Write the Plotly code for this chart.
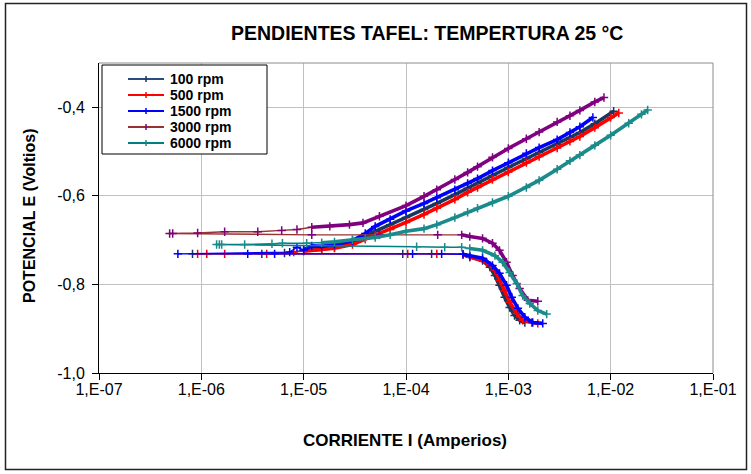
import plotly.graph_objects as go

# ---------------- data ----------------
series_names = ["100 rpm", "500 rpm", "1500 rpm", "3000 rpm", "6000 rpm"]
line_colors = ["#2B4C7E", "#FF0000", "#0000FF", "#993333", "#008080"]
marker_colors = ["#17375E", "#FF0000", "#0000FF", "#800080", "#1A8A8A"]

x_tick_vals = [1e-7, 1e-6, 1e-5, 1e-4, 1e-3, 1e-2, 1e-1]
x_tick_text = ["1,E-07", "1,E-06", "1,E-05", "1,E-04", "1,E-03", "1,E-02", "1,E-01"]
y_tick_vals = [-1.0, -0.8, -0.6, -0.4]
y_tick_text = ["-1,0", "-0,8", "-0,6", "-0,4"]

# 100 rpm
i100_cat = [1.45e-3, 1.29e-3, 1.15e-3, 1.03e-3, 9.2e-4, 8.2e-4, 7.4e-4, 6.6e-4, 5.6e-4, 4.2e-4, 3.6e-4]
e100_cat = [-0.886, -0.881, -0.870, -0.852, -0.829, -0.802, -0.780, -0.761, -0.746, -0.738, -0.732]
i100_low = [1.78e-4, 9.3e-5, 8.2e-7, 3.9e-6, 6.5e-6]
e100_low = [-0.731, -0.731, -0.731, -0.731, -0.729]
i100_an = [1.0e-5, 1.5e-5, 2.0e-5, 3.0e-5, 4.0e-5, 5.0e-5, 7.0e-5, 1.0e-4, 1.5e-4, 2.0e-4, 3.0e-4,
           4.0e-4, 5.0e-4, 7.0e-4, 1.0e-3, 1.5e-3, 2.0e-3, 3.0e-3, 4.0e-3, 5.0e-3, 7.0e-3, 1.07e-2]
e100_an = [-0.723, -0.721, -0.716, -0.705, -0.692, -0.680, -0.665, -0.649, -0.631, -0.617, -0.597,
           -0.583, -0.572, -0.554, -0.536, -0.516, -0.502, -0.484, -0.468, -0.457, -0.437, -0.409]

# 500 rpm
i500_cat = [1.94e-3, 1.69e-3, 1.38e-3, 1.21e-3, 1.03e-3, 9.2e-4, 8.2e-4, 7.4e-4, 6.15e-4, 4.2e-4, 3.6e-4]
e500_cat = [-0.888, -0.886, -0.881, -0.865, -0.840, -0.814, -0.791, -0.768, -0.750, -0.738, -0.732]
i500_low = [2.0e-4, 1.04e-4, 9.2e-7, 1.13e-6, 1.69e-6, 4.35e-6, 8.0e-6]
e500_low = [-0.731, -0.731, -0.731, -0.731, -0.731, -0.731, -0.727]
i500_an = [1.0e-5, 1.5e-5, 2.0e-5, 3.0e-5, 4.0e-5, 5.0e-5, 7.0e-5, 1.0e-4, 1.5e-4, 2.0e-4, 3.0e-4,
           4.0e-4, 5.0e-4, 7.0e-4, 1.0e-3, 1.5e-3, 2.0e-3, 3.0e-3, 4.0e-3, 5.0e-3, 7.0e-3, 1.0e-2, 1.2e-2]
e500_an = [-0.725, -0.721, -0.718, -0.710, -0.698, -0.689, -0.676, -0.660, -0.642, -0.628, -0.608,
           -0.592, -0.581, -0.563, -0.546, -0.525, -0.511, -0.492, -0.477, -0.466, -0.446, -0.423, -0.413]

# 1500 rpm
i1500_cat = [2.17e-3, 1.73e-3, 1.45e-3, 1.24e-3, 1.08e-3, 9.6e-4, 8.2e-4, 7.0e-4, 5.6e-4, 4.2e-4, 3.6e-4]
e1500_cat = [-0.888, -0.886, -0.874, -0.854, -0.829, -0.802, -0.775, -0.757, -0.741, -0.736, -0.732]
i1500_low = [2.23e-4, 1.16e-4, 5.2e-6, 2.84e-6, 5.9e-7, 7.3e-6, 8.6e-6]
e1500_low = [-0.731, -0.731, -0.731, -0.731, -0.731, -0.727, -0.716]
i1500_an = [1.0e-5, 1.2e-5, 1.5e-5, 2.0e-5, 3.0e-5, 4.0e-5, 5.0e-5, 7.0e-5, 1.0e-4, 1.5e-4, 2.0e-4,
            3.0e-4, 4.0e-4, 5.0e-4, 7.0e-4, 1.0e-3, 1.5e-3, 2.0e-3, 3.0e-3, 4.0e-3, 5.0e-3, 6.7e-3]
e1500_an = [-0.722, -0.713, -0.714, -0.710, -0.701, -0.685, -0.669, -0.653, -0.634, -0.617, -0.604,
            -0.586, -0.572, -0.561, -0.543, -0.525, -0.504, -0.491, -0.473, -0.457, -0.444, -0.423]

# 3000 rpm
i3000_cat = [1.94e-3, 1.55e-3, 1.29e-3, 1.10e-3, 9.6e-4, 8.2e-4, 7.0e-4, 5.6e-4, 4.2e-4, 3.5e-4]
e3000_cat = [-0.838, -0.836, -0.809, -0.780, -0.750, -0.723, -0.707, -0.696, -0.692, -0.688]
i3000_low = [2.04e-4, 5.5e-5, 1.2e-5, 4.9e-7, 5.25e-7, 9.2e-7, 1.69e-6, 3.56e-6, 6.1e-6, 8.6e-6]
e3000_low = [-0.688, -0.688, -0.688, -0.685, -0.685, -0.684, -0.681, -0.681, -0.678, -0.676]
i3000_an = [1.2e-5, 1.8e-5, 2.8e-5, 3.8e-5, 5.5e-5, 1.0e-4, 1.5e-4, 2.0e-4, 3.0e-4, 4.0e-4, 5.0e-4,
            7.0e-4, 1.0e-3, 1.5e-3, 2.0e-3, 3.0e-3, 4.0e-3, 5.0e-3, 7.0e-3, 8.6e-3]
e3000_an = [-0.671, -0.669, -0.665, -0.661, -0.646, -0.622, -0.601, -0.586, -0.563, -0.547, -0.534,
            -0.513, -0.493, -0.471, -0.456, -0.433, -0.419, -0.407, -0.388, -0.378]

# 6000 rpm
i6000_cat = [2.37e-3, 1.94e-3, 1.62e-3, 1.38e-3, 1.21e-3, 1.03e-3, 8.8e-4, 7.4e-4, 5.6e-4, 4.2e-4]
e6000_cat = [-0.867, -0.859, -0.843, -0.825, -0.798, -0.773, -0.750, -0.735, -0.723, -0.719]
i6000_low = [3.5e-4, 2.39e-4, 1.27e-4, 1.41e-6, 1.5e-6, 1.58e-6, 2.65e-6, 4.9e-6, 6.2e-6, 1.07e-5]
e6000_low = [-0.716, -0.716, -0.715, -0.710, -0.710, -0.710, -0.710, -0.708, -0.707, -0.707]
i6000_an = [1.5e-5, 2.0e-5, 3.0e-5, 4.0e-5, 5.0e-5, 7.0e-5, 1.0e-4, 1.5e-4, 2.0e-4, 3.0e-4, 4.0e-4,
            5.0e-4, 7.0e-4, 1.0e-3, 1.5e-3, 2.0e-3, 3.0e-3, 4.0e-3, 5.0e-3, 7.0e-3, 1.0e-2, 1.5e-2,
            2.0e-2, 2.3e-2]
e6000_an = [-0.706, -0.704, -0.699, -0.696, -0.694, -0.688, -0.680, -0.674, -0.665, -0.649, -0.637,
            -0.628, -0.615, -0.601, -0.581, -0.565, -0.540, -0.521, -0.508, -0.486, -0.463, -0.436,
            -0.416, -0.406]

curves = [
    (i100_cat, e100_cat, i100_low, e100_low, i100_an, e100_an),
    (i500_cat, e500_cat, i500_low, e500_low, i500_an, e500_an),
    (i1500_cat, e1500_cat, i1500_low, e1500_low, i1500_an, e1500_an),
    (i3000_cat, e3000_cat, i3000_low, e3000_low, i3000_an, e3000_an),
    (i6000_cat, e6000_cat, i6000_low, e6000_low, i6000_an, e6000_an),
]

# ---------------- layout geometry (pixels -> paper) ----------------
W, H = 751, 474
ML, MR, MT, MB = 99, 38, 63, 101
PW, PH = W - ML - MR, H - MT - MB


def px_x(px):
    return (px - ML) / PW


def px_y(py):
    return (H - MB - py) / PH


FONT = "Liberation Sans, Arial, sans-serif"

fig = go.Figure()

for name, lc, mc, (ic, ec, il, el, ia, ea) in zip(series_names, line_colors, marker_colors, curves):
    # full sweep: cathodic branch, points near the corrosion potential, anodic branch
    fig.add_trace(go.Scatter(
        x=ic + il + ia, y=ec + el + ea, mode="lines+markers", name=name,
        line=dict(color=lc, width=1.4),
        marker=dict(symbol="cross-thin", size=6, color=mc, line=dict(width=1.5, color=mc)),
        showlegend=False, hoverinfo="x+y+name",
    ))
    # densely sampled Tafel branches
    for xs, ys in ((ic, ec), (ia, ea)):
        fig.add_trace(go.Scatter(
            x=xs, y=ys, mode="lines", line=dict(color=mc, width=3.6),
            showlegend=False, hoverinfo="skip",
        ))

axis_common = dict(
    showgrid=True, gridcolor="#C0C0C0", gridwidth=1,
    showline=True, linecolor="black", linewidth=1,
    ticks="outside", ticklen=6, tickcolor="black", tickwidth=1,
    zeroline=False, mirror=False,
    tickfont=dict(family=FONT, size=16, color="black"),
)

fig.update_xaxes(type="log", range=[-7, -1], tickvals=x_tick_vals, ticktext=x_tick_text,
                 ticklabelstandoff=-4, **axis_common)
fig.update_yaxes(range=[-1.0, -0.3], tickvals=y_tick_vals, ticktext=y_tick_text,
                 ticklabelstandoff=4, **axis_common)

shapes = [
    # outer chart frame
    dict(type="rect", xref="paper", yref="paper", x0=px_x(5.5), x1=px_x(746.5),
         y0=px_y(469.5), y1=px_y(3.5), line=dict(color="#222222", width=1.5)),
    # top and right border of the plotting area
    dict(type="line", xref="paper", yref="paper", x0=0, x1=1, y0=1, y1=1,
         line=dict(color="#8C8C8C", width=1)),
    dict(type="line", xref="paper", yref="paper", x0=1, x1=1, y0=0, y1=1,
         line=dict(color="#8C8C8C", width=1)),
    # legend box
    dict(type="rect", xref="paper", yref="paper", x0=px_x(102), x1=px_x(267),
         y0=px_y(154), y1=px_y(65), fillcolor="white", line=dict(color="black", width=1),
         layer="above"),
]

annotations = [
    dict(text="PENDIENTES TAFEL: TEMPERTURA 25 °C", xref="paper", yref="paper",
         x=px_x(427), y=px_y(33), showarrow=False, xanchor="center", yanchor="middle",
         font=dict(family=FONT, size=19.5, color="black", weight="bold")),
    dict(text="CORRIENTE I (Amperios)", xref="paper", yref="paper",
         x=px_x(405), y=px_y(440), showarrow=False, xanchor="center", yanchor="middle",
         font=dict(family=FONT, size=17, color="black", weight="bold")),
    dict(text="POTENCIAL E (Voltios)", xref="paper", yref="paper", textangle=-90,
         x=px_x(29), y=px_y(216), showarrow=False, xanchor="center", yanchor="middle",
         font=dict(family=FONT, size=16, color="black", weight="bold")),
]

# legend entries
row_y = [79, 95, 111, 127, 143]
for name, lc, mc, ry in zip(series_names, line_colors, marker_colors, row_y):
    shapes.append(dict(type="line", xref="paper", yref="paper", x0=px_x(128), x1=px_x(164),
                       y0=px_y(ry), y1=px_y(ry), line=dict(color=lc, width=2), layer="above"))
    shapes.append(dict(type="line", xref="paper", yref="paper", x0=px_x(146), x1=px_x(146),
                       y0=px_y(ry - 3), y1=px_y(ry + 3), line=dict(color=mc, width=1.5),
                       layer="above"))
    annotations.append(dict(text=name, xref="paper", yref="paper", x=px_x(168), y=px_y(ry),
                            showarrow=False, xanchor="left", yanchor="middle",
                            font=dict(family=FONT, size=14, color="black", weight="bold")))

fig.update_layout(
    width=W, height=H, autosize=False,
    margin=dict(l=ML, r=MR, t=MT, b=MB),
    paper_bgcolor="white", plot_bgcolor="white",
    showlegend=False,
    shapes=shapes, annotations=annotations,
)

fig.write_html("out.html")
